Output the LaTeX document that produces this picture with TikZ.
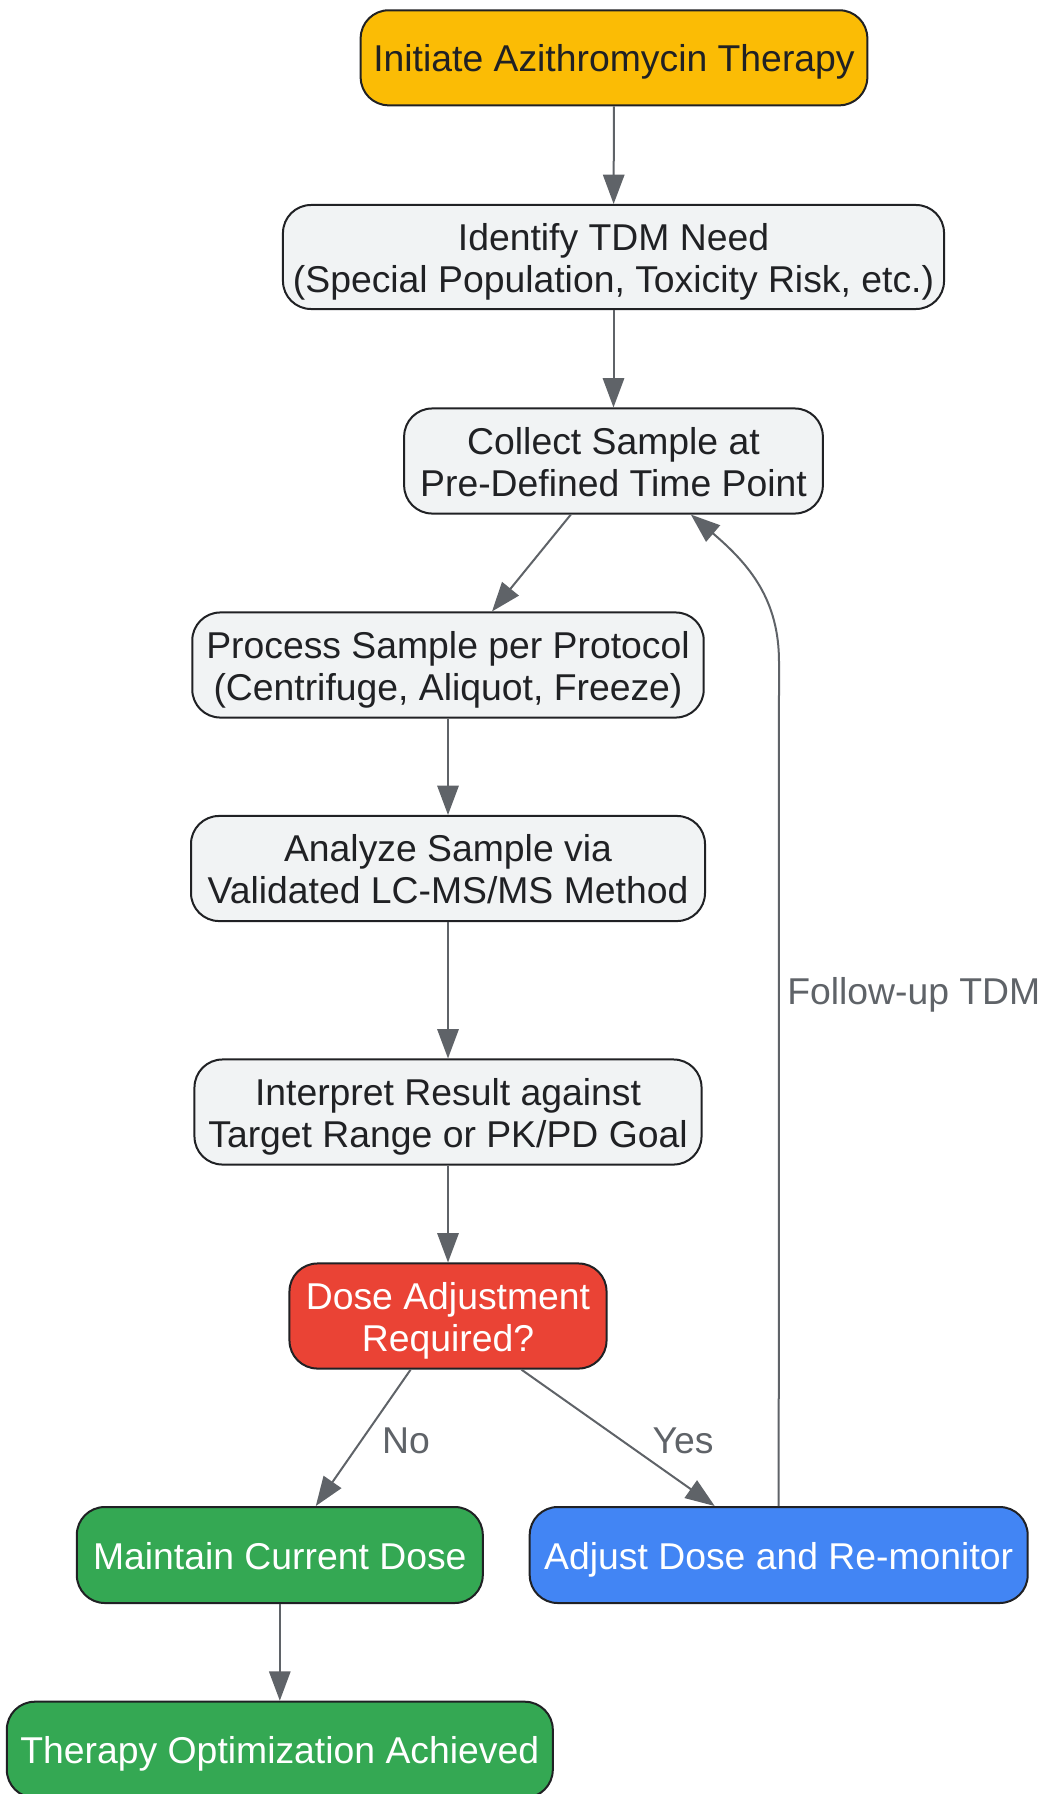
\documentclass[tikz,border=0pt]{standalone}
\usepackage{fontspec}
\setmainfont{Liberation Sans}
\usetikzlibrary{arrows.meta}
\definecolor{ylw}{HTML}{FBBC05}
\definecolor{gry}{HTML}{F1F3F4}
\definecolor{rdd}{HTML}{EA4335}
\definecolor{grn}{HTML}{34A853}
\definecolor{blu}{HTML}{4285F4}
\definecolor{txt}{HTML}{202124}
\definecolor{edg}{HTML}{5F6368}
\newcommand\tst{\rule{0pt}{28pt}}
\newcommand\bst{\rule[-6.7pt]{0pt}{0pt}}
\begin{document}
\begin{tikzpicture}[x=0.75pt,y=-0.75pt,
  box/.style={draw=txt, line width=1.5pt, rounded corners=21pt, align=center, inner sep=0pt,
    font=\fontsize{28}{31.7}\selectfont, text=txt},
  lightbox/.style={box, fill=gry, minimum height=78.8pt},
  flow/.style={draw=edg, line width=1.5pt, -{Triangle[length=22pt,width=16pt]}, color=edg},
  lbl/.style={font=\fontsize{28}{31.7}\selectfont, text=edg, inner sep=0pt}]
\useasboundingbox (0,0) rectangle (1039,1794);
\node[box, fill=ylw, minimum width=380pt, minimum height=71.3pt] (start) at (614,57.8) {\tst Initiate Azithromycin Therapy\bst};
\node[lightbox, minimum width=495.8pt, minimum height=78pt] (need) at (613.5,257) {\tst Identify TDM Need\\(Special Population, Toxicity Risk, etc.)\bst};
\node[lightbox, minimum width=314pt] (collect) at (613.5,461) {\tst Collect Sample at\\Pre-Defined Time Point\bst};
\node[lightbox, minimum width=383.6pt] (process) at (448,665) {\tst Process Sample per Protocol\\(Centrifuge, Aliquot, Freeze)\bst};
\node[lightbox, minimum width=385.5pt] (analyze) at (448,868.5) {\tst Analyze Sample via\\Validated LC-MS/MS Method\bst};
\node[lightbox, minimum width=380.3pt] (interp) at (448,1112) {\tst Interpret Result against\\Target Range or PK/PD Goal\bst};
\node[box, fill=rdd, text=white, minimum width=237.8pt, minimum height=78.8pt] (dose) at (448,1316) {\tst Dose Adjustment\\Required?\bst};
\node[box, fill=grn, text=white, minimum width=304.5pt, minimum height=72pt] (maintain) at (279.8,1555) {\tst Maintain Current Dose\bst};
\node[box, fill=blu, text=white, minimum width=373.5pt, minimum height=72pt] (adjust) at (778.7,1555) {\tst Adjust Dose and Re-monitor\bst};
\node[box, fill=grn, text=white, minimum width=409.5pt, minimum height=72pt] (done) at (279.8,1749.7) {\tst Therapy Optimization Achieved\bst};

\draw[flow] (start) -- (need);
\draw[flow] (need) -- (collect);
\draw[flow] ([xshift=-32pt]collect.south) -- ([xshift=33pt]process.north);
\draw[flow] (process) -- (analyze);
\draw[flow] (analyze) -- (interp);
\draw[flow] (interp) -- (dose);
\draw[flow] ([xshift=-28pt]dose.south) -- ([xshift=27pt]maintain.north);
\draw[flow] ([xshift=55pt]dose.south) -- ([xshift=-48pt]adjust.north);
\draw[flow] (maintain) -- (done);
\coordinate (bend) at (779,662);
\draw[flow] (adjust.north) -- (bend) .. controls (779,600) and (750,565) .. ([xshift=58pt]collect.south);

\node[lbl] (no) at (406,1441) {No};
\node[lbl] (yes) at (683,1441) {Yes};
\node[lbl, anchor=west] (follow) at (787,995) {Follow-up TDM};
\end{tikzpicture}
\end{document}
